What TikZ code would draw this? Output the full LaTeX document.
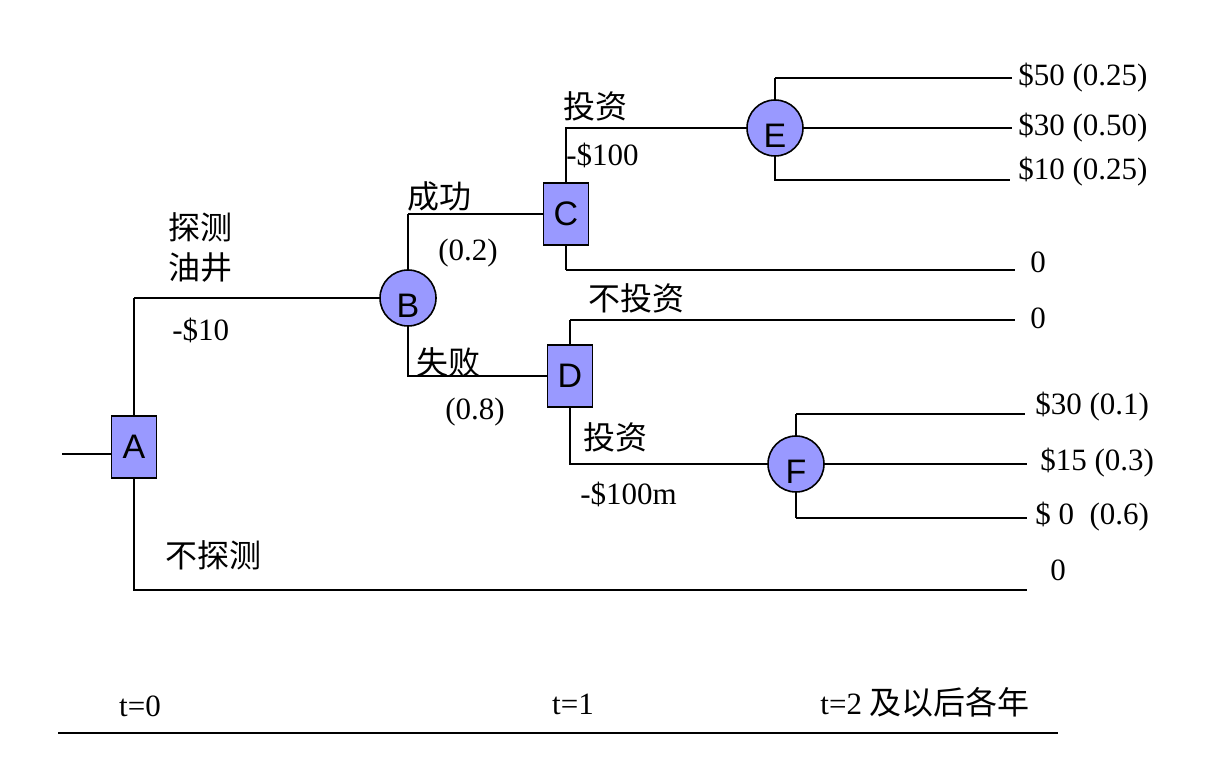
\documentclass[tikz,border=0pt]{standalone}
\usepackage{fontspec}
\setmainfont{Liberation Serif}
\newfontfamily\cjk{Noto Sans CJK SC}
\newfontfamily\arial{Liberation Sans}
\definecolor{nodeblue}{RGB}{153,153,255}
\begin{document}
\begin{tikzpicture}[x=0.5pt,y=-0.5pt,font=\fontsize{15.5}{18}\selectfont,
    decision/.style={draw,fill=nodeblue,line width=0.8pt,minimum width=22.5pt,minimum height=31pt,inner sep=0pt,font=\arial\fontsize{17}{19}\selectfont},
    chance/.style={circle,draw,fill=nodeblue,line width=0.8pt,minimum size=28pt,inner sep=0pt,text height=20pt,text depth=0pt,font=\arial\fontsize{17}{19}\selectfont},
    lbl/.style={anchor=west,inner sep=0pt},
    zh/.style={lbl,font=\cjk\fontsize{16}{20}\selectfont},
    branch/.style={line width=0.7pt},
    mainbranch/.style={line width=1.2pt}]
    \useasboundingbox (0,0) rectangle (1212,775);
    % decision and chance nodes
    \node[decision] (A) at (134,447) {A};
    \node[chance] (B) at (408,298) {B};
    \node[decision] (C) at (566,214) {C};
    \node[decision] (D) at (570,376) {D};
    \node[chance] (E) at (775,128) {E};
    \node[chance] (F) at (796,464) {F};
    % free ends of the branches
    \coordinate (start) at (62,454);
    \coordinate (a0) at (1027,590);
    \coordinate (c0) at (1015,270);
    \coordinate (d0) at (1015,320);
    \coordinate (e1) at (1012,78);
    \coordinate (e2) at (1012,128);
    \coordinate (e3) at (1010,180);
    \coordinate (f1) at (1025,414);
    \coordinate (f2) at (1027,464);
    \coordinate (f3) at (1027,518);
    % branches
    \draw[branch] (start) -- (start -| A.west);
    \draw[mainbranch] (A.north) -- (A.north |- B.west);
    \draw[branch] (A.north |- B.west) -- (B.west);
    \draw[mainbranch] (A.south) |- (a0);
    \draw[branch] (B.north) -- (B.north |- C.west);
    \draw[mainbranch] (B.north |- C.west) -- (C.west);
    \draw[branch] (B.south) |- (D.west);
    \draw[branch] (C.north) |- (E.west);
    \draw[branch] (C.south) -- (C.south |- c0);
    \draw[mainbranch] (C.south |- c0) -- (c0);
    \draw[mainbranch] (D.north) -- (D.north |- d0);
    \draw[branch] (D.north |- d0) -- (d0);
    \draw[mainbranch] (D.south) |- (F.west);
    \draw[mainbranch] (E.north) -- (E.north |- e1);
    \draw[branch] (E.north |- e1) -- (e1);
    \draw[mainbranch] (E.east) -- (e2);
    \draw[mainbranch] (E.south) |- (e3);
    \draw[branch] (F.north) -- (F.north |- f1);
    \draw[mainbranch] (F.north |- f1) -- (f1);
    \draw[mainbranch] (F.east) -- (f2);
    \draw[branch] (F.south) -- (F.south |- f3);
    \draw[mainbranch] (F.south |- f3) -- (f3);
    % branch labels
    \node[zh,align=left] (explore) at (168,248) {探测\\油井};
    \node[lbl] (cost10) at (172,330) {-\$10};
    \node[zh] (success) at (407,196) {成功};
    \node[lbl] (psuccess) at (438,253) {(0.2)};
    \node[zh] (fail) at (416,362) {失败};
    \node[lbl] (pfail) at (445,412) {(0.8)};
    \node[zh] (investC) at (563,106) {投资};
    \node[lbl] (cost100) at (566,155) {-\$100};
    \node[zh] (noinvest) at (588,298) {不投资};
    \node[zh] (investD) at (583,437) {投资};
    \node[lbl] (cost100m) at (580,494) {-\$100m};
    \node[zh] (noexplore) at (165,555) {不探测};
    % payoffs
    \node[lbl] (pe1) at (1018,78) {\$50 (0.25)};
    \node[lbl] (pe2) at (1018,128) {\$30 (0.50)};
    \node[lbl] (pe3) at (1018,172) {\$10 (0.25)};
    \node[lbl] (pc0) at (1030,262) {0};
    \node[lbl] (pd0) at (1030,318) {0};
    \node[lbl] (pf1) at (1035,407) {\$30 (0.1)};
    \node[lbl] (pf2) at (1040,463) {\$15 (0.3)};
    \node[lbl] (pf3) at (1035,517) {\$ 0~ (0.6)};
    \node[lbl] (pa0) at (1050,570) {0};
    % time axis
    \node (t0) at (140,706) {t=0};
    \node (t1) at (573,704) {t=1};
    \node[lbl] (t2) at (820,702) {t=2 {\cjk\fontsize{16}{20}\selectfont 及以后各年}};
    \draw[branch] (58,733) -- (1058,733);
\end{tikzpicture}
\end{document}
